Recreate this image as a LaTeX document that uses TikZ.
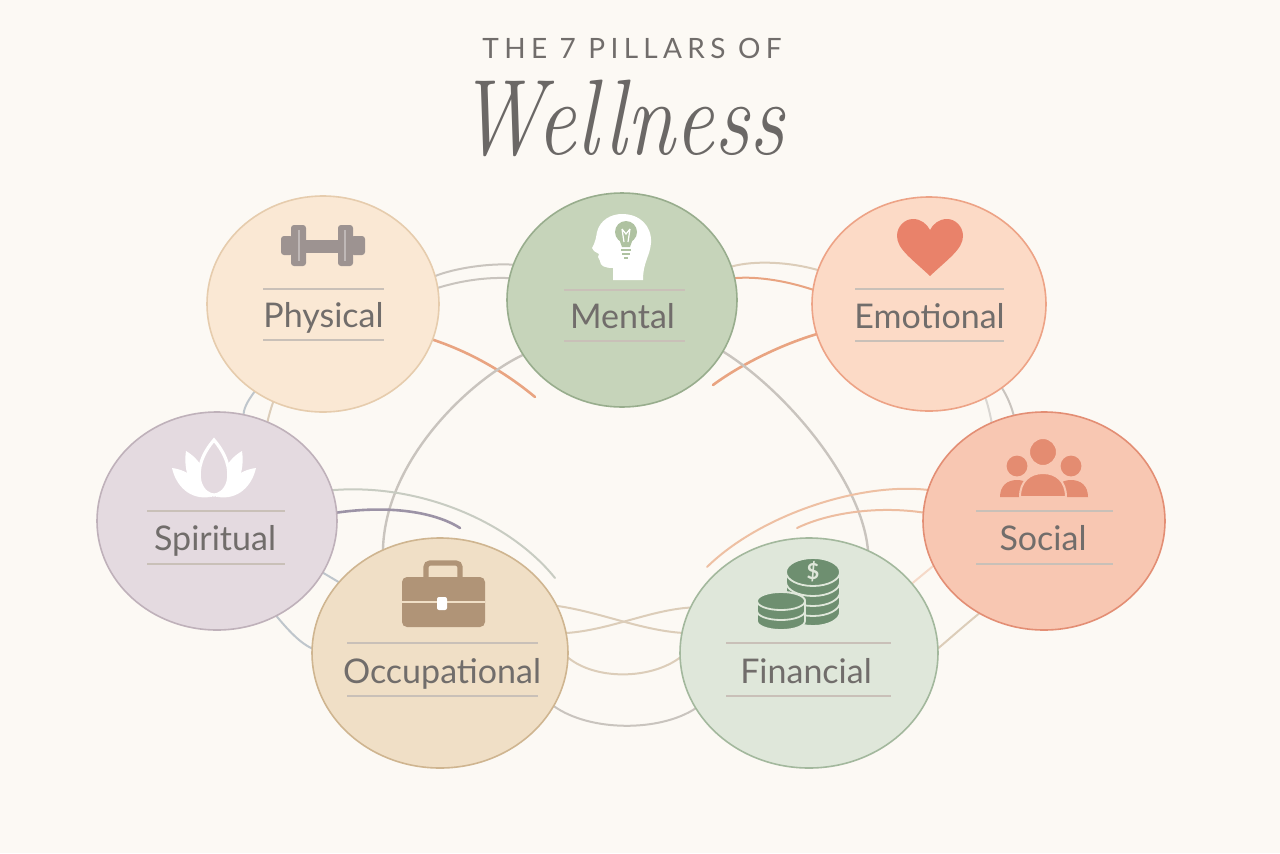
\documentclass[tikz,border=0pt]{standalone}
\usepackage{fontspec}
\usepackage{graphicx}
\newfontfamily\lato{Lato}
\newfontfamily\titlef[LetterSpace=19]{Lato}
\usetikzlibrary{shapes.geometric}
\pgfdeclarelayer{bg}
\pgfsetlayers{bg,main}
\definecolor{bgc}{HTML}{FCF9F4}
\definecolor{txt}{HTML}{716D6B}
\definecolor{divc}{HTML}{C9C0B8}
\definecolor{physF}{HTML}{FAE8D4}\definecolor{physD}{HTML}{E6CCAD}
\definecolor{mentF}{HTML}{C6D4BA}\definecolor{mentD}{HTML}{98AD8D}
\definecolor{emoF}{HTML}{FCDAC6}\definecolor{emoD}{HTML}{EDA386}
\definecolor{spirF}{HTML}{E4DAE0}\definecolor{spirD}{HTML}{BFB1BA}
\definecolor{socF}{HTML}{F8C7B2}\definecolor{socD}{HTML}{E38E74}
\definecolor{occF}{HTML}{F0DFC6}\definecolor{occD}{HTML}{CFB590}
\definecolor{finF}{HTML}{DFE7DA}\definecolor{finD}{HTML}{A3B89D}
\definecolor{cGray}{HTML}{C9C4BE}
\definecolor{cBlue}{HTML}{BFC6CC}
\definecolor{cBeige}{HTML}{DCCDB9}
\definecolor{cOrange}{HTML}{E9A481}
\definecolor{cPeach}{HTML}{EEC0A3}
\definecolor{cPurple}{HTML}{9C93A6}
\definecolor{cSage}{HTML}{C8CCC2}
\definecolor{dumbC}{HTML}{9D9391}
\definecolor{heartC}{HTML}{E9826A}
\definecolor{peopleC}{HTML}{E48C71}
\definecolor{briefC}{HTML}{B09477}
\definecolor{coinC}{HTML}{6E8F70}
\definecolor{bulbC}{HTML}{AFC2A1}
\begin{document}
\begin{tikzpicture}[x=0.5pt,y=-0.5pt,
  pillar/.style={ellipse, line width=0.8pt, inner sep=0pt, outer sep=0pt},
  lbl/.style={font=\lato\fontsize{17}{20}\selectfont, text=txt, anchor=base, inner sep=0pt},
  divider/.style={draw=divc, line width=0.6pt},
  lnk/.style={line width=1pt, line cap=round},
  coinrim/.style={fill=coinC, draw=finF, line width=0.9pt}]
\useasboundingbox (0,0) rectangle (1280,853);

% ---------- title ----------
\node[anchor=base, inner sep=0pt, text=txt, font=\titlef\fontsize{14}{14}\selectfont] (title) at (632,58) {THE 7 PILLARS OF};
\node[anchor=base, inner sep=0pt, text=txt!95!black, font=\fontsize{44}{44}\selectfont\itshape] (well) at (621,154) {\scalebox{1}[1.22]{Wellness}};

% ---------- pillars ----------
\node[pillar, fill=physF, draw=physD, minimum width=116pt, minimum height=108pt] (phys) at (323,304) {};
\node[pillar, fill=mentF, draw=mentD, minimum width=115pt, minimum height=107pt] (ment) at (622,300) {};
\node[pillar, fill=emoF, draw=emoD, minimum width=117pt, minimum height=107pt] (emo) at (929,304) {};
\node[pillar, fill=spirF, draw=spirD, minimum width=120pt, minimum height=109pt] (spir) at (217,521) {};
\node[pillar, fill=socF, draw=socD, minimum width=121pt, minimum height=109pt] (soc) at (1044,521) {};
\node[pillar, fill=occF, draw=occD, minimum width=128pt, minimum height=115pt] (occ) at (440,653) {};
\node[pillar, fill=finF, draw=finD, minimum width=129pt, minimum height=115pt] (fin) at (809,653) {};

% ---------- labels and dividers ----------
\node[lbl] (physL) at (323.5,327) {Physical};
\draw[divider] (263,289) -- (384,289) (263,340) -- (384,340);
\node[lbl] (mentL) at (622.5,328) {Mental};
\draw[divider] (564,290) -- (685,290) (564,341) -- (685,341);
\node[lbl] (emoL) at (929.5,328) {Emotional};
\draw[divider] (855,289) -- (1004,289) (855,341) -- (1004,341);
\node[lbl] (spirL) at (215,550) {Spiritual};
\draw[divider] (147,511) -- (285,511) (147,564) -- (285,564);
\node[lbl] (socL) at (1043,550) {Social};
\draw[divider] (976,511) -- (1113,511) (976,564) -- (1113,564);
\node[lbl] (occL) at (442,683) {Occupational};
\draw[divider] (347,643) -- (538,643) (347,696) -- (538,696);
\node[lbl] (finL) at (806,683) {Financial};
\draw[divider] (726,643) -- (891,643) (726,696) -- (891,696);

% ---------- icons ----------
% dumbbell
\fill[dumbC, rounded corners=1.5pt] (281,236) rectangle (293,255);
\fill[dumbC, rounded corners=1.5pt] (291,225) rectangle (306,266);
\fill[dumbC] (304,240) rectangle (340,253);
\fill[dumbC, rounded corners=1.5pt] (338,225) rectangle (353,266);
\fill[dumbC, rounded corners=1.5pt] (351,236) rectangle (365,255);
\draw[white, opacity=0.35, line width=0.7pt] (299,230) -- (299,261) (345,230) -- (345,261);
% head with bulb
\fill[white] (613,280) -- (613,268) .. controls (605,268) and (600,266) .. (600,261) -- (598,257) -- (599,254) -- (594,251) -- (592,248)
  .. controls (596,241) and (596,237) .. (597,232) .. controls (600,220) and (611,214) .. (622,214)
  .. controls (640,214) and (652,226) .. (651,243) .. controls (650,256) and (643,262) .. (643,280) -- cycle;
\fill[bulbC] (626,232) circle[radius=5.5pt];
\fill[bulbC] (618,236) -- (634,236) -- (630,247) -- (622,247) -- cycle;
\draw[white, line width=0.6pt] (622,229) -- (624,242) (630,229) -- (628,242) (622,229) -- (626,234) -- (630,229);
\draw[bulbC, line width=1.2pt] (621,250) -- (631,250) (622,254) -- (630,254) (624,258) -- (628,258);
% heart
\fill[heartC] (930,276) .. controls (912,259) and (897,249) .. (897,236) .. controls (897,226) and (905,219) .. (913,219)
  .. controls (921,219) and (927,224) .. (930,230) .. controls (933,224) and (939,219) .. (947,219)
  .. controls (955,219) and (963,226) .. (963,236) .. controls (963,249) and (948,259) .. (930,276) -- cycle;
% lotus
\fill[white] (212,497) .. controls (190,495) and (183,470) .. (186,451) .. controls (200,459) and (210,476) .. (212,497) -- cycle;
\fill[white] (216,497) .. controls (238,495) and (245,470) .. (242,451) .. controls (228,459) and (218,476) .. (216,497) -- cycle;
\fill[white] (210,497) .. controls (190,500) and (176,486) .. (172,468) .. controls (188,470) and (202,481) .. (210,497) -- cycle;
\fill[white] (218,497) .. controls (238,500) and (252,486) .. (256,468) .. controls (240,470) and (226,481) .. (218,497) -- cycle;
\filldraw[fill=spirF, draw=white, line width=1.6pt] (214,440) .. controls (226,454) and (231,469) .. (228,482) .. controls (225,492) and (218,495) .. (214,495)
  .. controls (210,495) and (203,492) .. (200,482) .. controls (197,469) and (202,454) .. (214,440) -- cycle;
% people
\fill[peopleC] (1017,466) circle[radius=5.2pt];
\fill[peopleC] (1071,466) circle[radius=5.2pt];
\fill[peopleC] (1000,497) .. controls (1000,486) and (1007,480) .. (1017,480) .. controls (1027,480) and (1034,486) .. (1034,497) -- cycle;
\fill[peopleC] (1054,497) .. controls (1054,486) and (1061,480) .. (1071,480) .. controls (1081,480) and (1088,486) .. (1088,497) -- cycle;
\filldraw[fill=peopleC, draw=socF, line width=1pt] (1020,497) .. controls (1020,481) and (1030,473) .. (1043,473) .. controls (1056,473) and (1066,481) .. (1066,497) -- cycle;
\filldraw[fill=peopleC, draw=socF, line width=1pt] (1043,452) circle[radius=7pt];
% briefcase
\draw[briefC, line width=2.6pt, rounded corners=2pt] (426,580) -- (426,563) -- (460,563) -- (460,580);
\fill[briefC, rounded corners=2.5pt] (402,577) rectangle (485,627);
\draw[occF, line width=1pt] (402,602) -- (485,602);
\fill[white, rounded corners=1pt] (437,597) rectangle (447,610);
% coins: big stack
\foreach \k in {3,2,1,0}{
  \pgfmathsetmacro{\ya}{572+10*\k}
  \pgfmathsetmacro{\yb}{582+10*\k}
  \filldraw[coinrim] (786,\ya) -- (786,\yb) arc[start angle=180, end angle=360, x radius=13.5pt, y radius=7pt] -- (840,\ya) arc[start angle=0, end angle=180, x radius=13.5pt, y radius=7pt] -- cycle;
}
\filldraw[coinrim] (813,572) ellipse[x radius=13.5pt, y radius=7pt];
\node[inner sep=0pt, text=finF, font=\lato\bfseries\fontsize{11}{11}\selectfont] (dollar) at (813,572) {\$};
% coins: small stack
\foreach \k in {1,0}{
  \pgfmathsetmacro{\ya}{601+10*\k}
  \pgfmathsetmacro{\yb}{611+10*\k}
  \filldraw[coinrim] (757,\ya) -- (757,\yb) arc[start angle=180, end angle=360, x radius=12pt, y radius=4.5pt] -- (805,\ya) arc[start angle=0, end angle=180, x radius=12pt, y radius=4.5pt] -- cycle;
}
\filldraw[coinrim] (781,601) ellipse[x radius=12pt, y radius=4.5pt];

% ---------- connectors (behind) ----------
\coordinate (pmEnd) at (535,397);
\coordinate (emEnd) at (713,385);
\coordinate (soEnd) at (555,578);
\coordinate (spEnd) at (460,528);
\coordinate (sfEnd) at (707,567);
\coordinate (sfEnd2) at (797,528);
\begin{pgfonlayer}{bg}
\fill[bgc] (0,0) rectangle (1280,853);
% physical - mental
\draw[lnk, cGray] (phys.14) .. controls (455,268) and (490,263) .. (ment.162);
\draw[lnk, cGray] (phys.8) .. controls (460,281) and (485,277) .. (ment.169);
\draw[lnk, cOrange, line width=1.3pt] (phys.-18) .. controls (470,352) and (505,372) .. (pmEnd);
% mental - emotional
\draw[lnk, cBeige] (ment.17) .. controls (755,260) and (790,262) .. (emo.163);
\draw[lnk, cOrange] (ment.11) .. controls (760,276) and (790,282) .. (emo.173);
\draw[lnk, cOrange, line width=1.3pt] (emo.195) .. controls (780,345) and (740,365) .. (emEnd);
% big arcs
\draw[lnk, cGray, line width=1.2pt] (ment.-27) .. controls (785,390) and (862,480) .. (fin.60);
\draw[lnk, cGray, line width=1.2pt] (ment.209) .. controls (470,380) and (385,460) .. (occ.119);
% physical - spiritual
\draw[lnk, cBlue] (phys.232) .. controls (250,398) and (244,406) .. (spir.76);
\draw[lnk, cBeige] (phys.243) .. controls (271,408) and (269,415) .. (spir.63);
% emotional - social
\draw[lnk, cGray] (emo.-49) .. controls (1007,396) and (1011,405) .. (soc.106);
\draw[lnk, cGray!70] (emo.-59) .. controls (988,405) and (990,414) .. (soc.118);
% spiritual sweeps
\draw[lnk, cSage] (spir.15) .. controls (420,483) and (510,522) .. (soEnd);
\draw[lnk, cPurple, line width=1.3pt] (spir.4) .. controls (390,505) and (435,512) .. (spEnd);
% spiritual - occupational
\draw[lnk, cBlue] (spir.-26) -- (occ.145);
\draw[lnk, cBlue] (spir.-58) .. controls (288,630) and (300,643) .. (occ.178);
% occupational - financial
\draw[lnk, cBeige] (occ.22) .. controls (600,612) and (640,630) .. (fin.171);
\draw[lnk, cBeige] (occ.9) .. controls (610,630) and (650,610) .. (fin.159);
\draw[lnk, cBeige] (occ.-2) .. controls (595,680) and (650,680) .. (fin.182);
\draw[lnk, cGray] (occ.-25) .. controls (590,732) and (660,732) .. (fin.206);
% social - financial
\draw[lnk, cPeach] (soc.165) .. controls (860,482) and (760,515) .. (sfEnd);
\draw[lnk, cPeach!90!cOrange] (soc.176) .. controls (880,506) and (830,512) .. (sfEnd2);
\draw[lnk, cPeach!60] (soc.202) -- (fin.34);
\draw[lnk, cBeige] (soc.235) .. controls (965,625) and (948,640) .. (fin.2);
\end{pgfonlayer}
\end{tikzpicture}
\end{document}
